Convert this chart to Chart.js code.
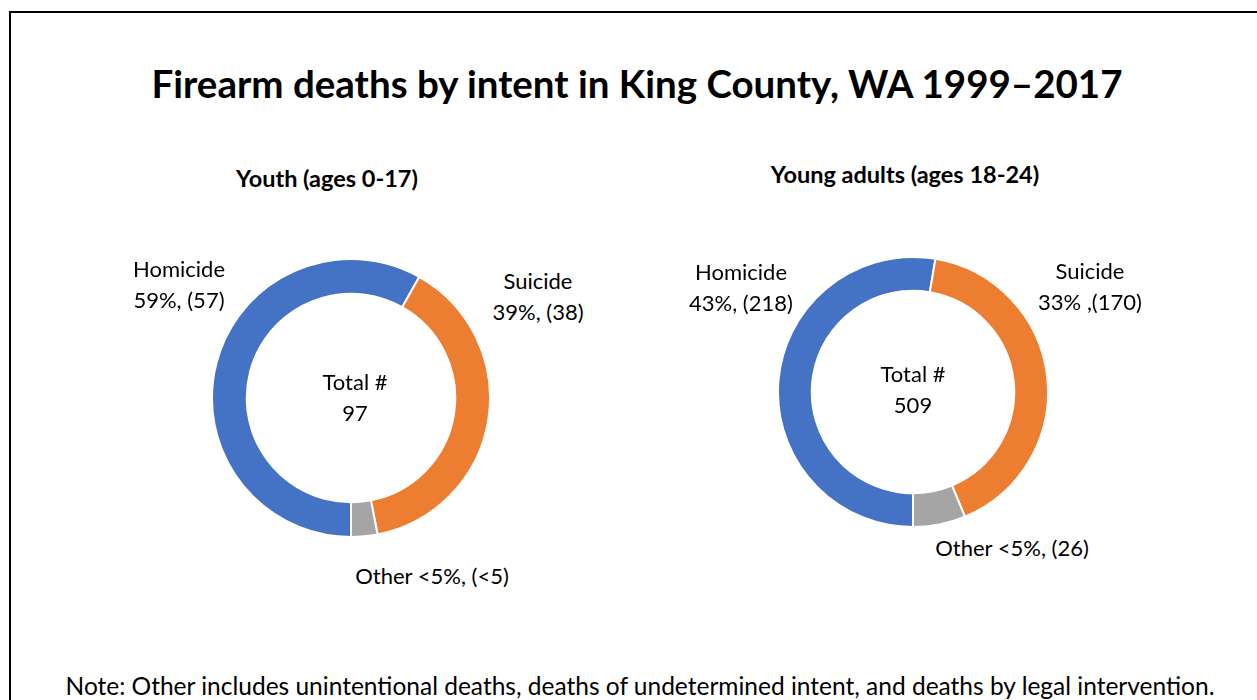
<!DOCTYPE html>
<html>
<head>
<meta charset="utf-8">
<script src="https://cdn.jsdelivr.net/npm/chart.js@4/dist/chart.umd.min.js"></script>
<style>
  body { margin: 0; background: #fff; font-family: Lato, "Open Sans", sans-serif; color: #000; }
  #page { position: relative; width: 1257px; height: 700px; overflow: hidden; }
  #frame { position: absolute; left: 9px; top: 11px; width: 1270px; height: 720px; border: 2px solid #000; }
  .t { position: absolute; white-space: nowrap; transform: translate(-50%, -50%); text-align: center; line-height: 1.4; }
  #title { font-weight: bold; font-size: 38.5px; }
  .sub { font-weight: bold; font-size: 23.5px; }
  .lbl { font-size: 22px; }
  .note { font-size: 24.5px; }
  canvas { position: absolute; }
</style>
</head>
<body>
<div id="page">
  <div id="frame"></div>
  <div class="t" id="title" style="left:637px; top:84px">Firearm deaths by intent in King County, WA 1999–2017</div>
  <canvas id="youth" width="280" height="280" style="left:211px; top:258px"></canvas>
  <canvas id="adults" width="272" height="272" style="left:777px; top:256px"></canvas>
  <div id="labels"></div>
  <div class="t note" style="left:640px; top:686px">Note: Other includes unintentional deaths, deaths of undetermined intent, and deaths by legal intervention.</div>
</div>
<script>
const intents = ['Homicide', 'Suicide', 'Other'];
const colors = ['#4472C4', '#ED7D31', '#A5A5A5'];

// youth (ages 0-17)
const youthDeaths = [57, 38, 3];
const youthShown = ['57', '38', '<5'];
const youthPct = ['59%,', '39%,', '<5%,'];
const youthTotal = 97;

// young adults (ages 18-24)
const adultDeaths = [218, 170, 26];
const adultShown = ['218', '170', '26'];
const adultPct = ['43%,', '33% ,', '<5%,'];
const adultTotal = 509;

function donut(id, values) {
  new Chart(document.getElementById(id), {
    type: 'doughnut',
    data: {
      labels: intents,
      datasets: [{
        data: values,
        backgroundColor: colors,
        borderColor: '#fff',
        borderWidth: 2
      }]
    },
    options: {
      responsive: false,
      animation: false,
      rotation: 180,
      cutout: '75%',
      plugins: { legend: { display: false }, tooltip: { enabled: false } }
    }
  });
}

donut('youth', youthDeaths);
donut('adults', adultDeaths);

// text placed round the rings
const labelBox = document.getElementById('labels');
function addText(cls, html, x, y) {
  const d = document.createElement('div');
  d.className = 't ' + cls;
  d.style.left = x + 'px';
  d.style.top = y + 'px';
  d.innerHTML = html;
  labelBox.appendChild(d);
}

addText('sub', 'Youth (ages 0-17)', 327, 178);
addText('sub', 'Young adults (ages 18-24)', 905, 174);

addText('lbl', intents[0] + '<br>' + youthPct[0] + ' (' + youthShown[0] + ')', 179, 285);
addText('lbl', intents[1] + '<br>' + youthPct[1] + ' (' + youthShown[1] + ')', 538, 297);
addText('lbl', intents[2] + ' ' + youthPct[2] + ' (' + youthShown[2] + ')', 432, 576);
addText('lbl', 'Total #<br>' + youthTotal, 355, 398);

addText('lbl', intents[0] + '<br>' + adultPct[0] + ' (' + adultShown[0] + ')', 741, 288);
addText('lbl', intents[1] + '<br>' + adultPct[1] + '(' + adultShown[1] + ')', 1090, 287);
addText('lbl', intents[2] + ' ' + adultPct[2] + ' (' + adultShown[2] + ')', 1012, 548);
addText('lbl', 'Total #<br>' + adultTotal, 913, 390);
</script>
</body>
</html>
